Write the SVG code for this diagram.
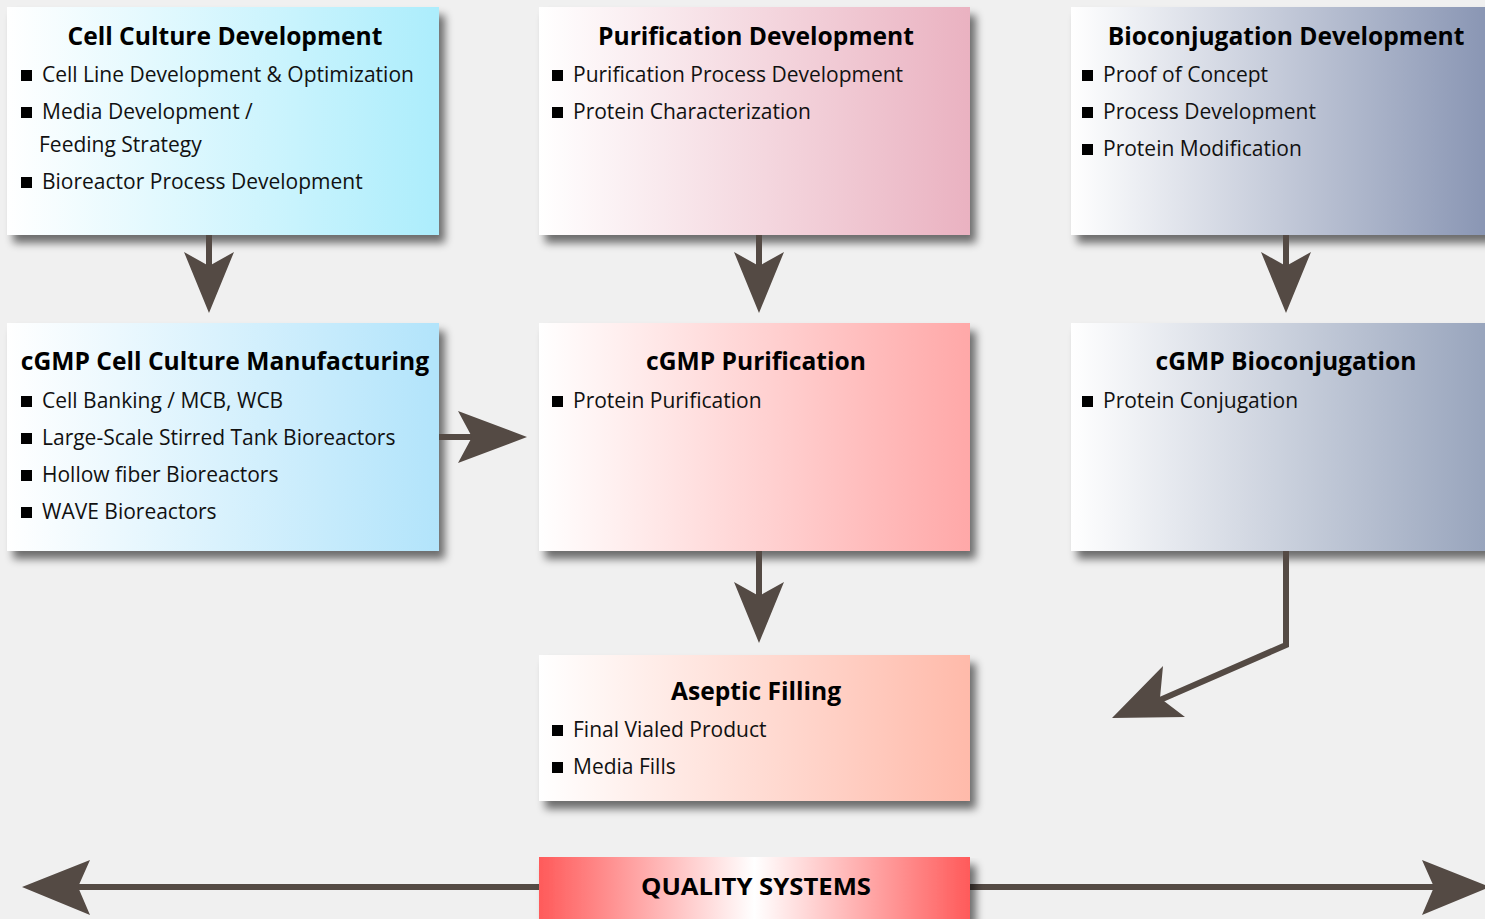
<svg xmlns="http://www.w3.org/2000/svg" width="1485" height="919" viewBox="0 0 1485 919">
  <defs>
    <filter id="shadow" x="-10%" y="-10%" width="130%" height="140%">
      <feGaussianBlur in="SourceAlpha" stdDeviation="4"/>
      <feOffset dx="6" dy="8" result="b"/>
      <feComponentTransfer><feFuncA type="linear" slope="0.55"/></feComponentTransfer>
      <feMerge><feMergeNode/><feMergeNode in="SourceGraphic"/></feMerge>
    </filter>
    <linearGradient id="gCyan" x1="0" x2="1" y1="0" y2="0">
      <stop offset="0" stop-color="#ffffff"/><stop offset="1" stop-color="#acedfc"/>
    </linearGradient>
    <linearGradient id="gBlue" x1="0" x2="1" y1="0" y2="0">
      <stop offset="0" stop-color="#ffffff"/><stop offset="1" stop-color="#b2e4fb"/>
    </linearGradient>
    <linearGradient id="gPink" x1="0" x2="1" y1="0" y2="0">
      <stop offset="0" stop-color="#ffffff"/><stop offset="1" stop-color="#eab2c1"/>
    </linearGradient>
    <linearGradient id="gRed" x1="0" x2="1" y1="0" y2="0">
      <stop offset="0" stop-color="#ffffff"/><stop offset="1" stop-color="#ffa8a8"/>
    </linearGradient>
    <linearGradient id="gSlate" x1="0" x2="1" y1="0" y2="0">
      <stop offset="0" stop-color="#ffffff"/><stop offset="1" stop-color="#8592b1"/>
    </linearGradient>
    <linearGradient id="gSlate2" x1="0" x2="1" y1="0" y2="0">
      <stop offset="0" stop-color="#ffffff"/><stop offset="1" stop-color="#94a1ba"/>
    </linearGradient>
    <linearGradient id="gSalmon" x1="0" x2="1" y1="0" y2="0">
      <stop offset="0" stop-color="#ffffff"/><stop offset="1" stop-color="#ffbaaa"/>
    </linearGradient>
    <linearGradient id="gQuality" x1="0" x2="1" y1="0" y2="0">
      <stop offset="0" stop-color="#ff5a5a"/><stop offset="0.5" stop-color="#ffffff"/><stop offset="1" stop-color="#ff5a5a"/>
    </linearGradient>
  </defs>
  <style>
    .title { font-family: "Open Sans", "Noto Sans", sans-serif; font-weight: bold; font-size: 24.6px; fill: #000; text-anchor: middle; }
    .item { font-family: "Open Sans", "Noto Sans", sans-serif; font-size: 21px; fill: #111; }
    .bullet { fill: #000; }
    .arrow { fill: #544a44; }
    .line { stroke: #544a44; stroke-width: 6; fill: none; }
  </style>

  <rect width="1485" height="919" fill="#f0f0f0"/>

  <!-- Development row -->
  <g id="cell-culture-dev">
    <rect x="7" y="7" width="432" height="228" fill="url(#gCyan)" filter="url(#shadow)"/>
    <text class="title" x="225" y="45">Cell Culture Development</text>
    <rect class="bullet" x="21" y="70" width="11" height="11"/>
    <text class="item" x="42" y="82">Cell Line Development &amp; Optimization</text>
    <rect class="bullet" x="21" y="107" width="11" height="11"/>
    <text class="item" x="42" y="119">Media Development /</text>
    <text class="item" x="39" y="152">Feeding Strategy</text>
    <rect class="bullet" x="21" y="177" width="11" height="11"/>
    <text class="item" x="42" y="189">Bioreactor Process Development</text>
  </g>

  <g id="purification-dev">
    <rect x="539" y="7" width="431" height="228" fill="url(#gPink)" filter="url(#shadow)"/>
    <text class="title" x="756" y="45">Purification Development</text>
    <rect class="bullet" x="552" y="70" width="11" height="11"/>
    <text class="item" x="573" y="82">Purification Process Development</text>
    <rect class="bullet" x="552" y="107" width="11" height="11"/>
    <text class="item" x="573" y="119">Protein Characterization</text>
  </g>

  <g id="bioconjugation-dev">
    <rect x="1071" y="7" width="431" height="228" fill="url(#gSlate)" filter="url(#shadow)"/>
    <text class="title" x="1286" y="45">Bioconjugation Development</text>
    <rect class="bullet" x="1082" y="70" width="11" height="11"/>
    <text class="item" x="1103" y="82">Proof of Concept</text>
    <rect class="bullet" x="1082" y="107" width="11" height="11"/>
    <text class="item" x="1103" y="119">Process Development</text>
    <rect class="bullet" x="1082" y="144" width="11" height="11"/>
    <text class="item" x="1103" y="156">Protein Modification</text>
  </g>

  <!-- cGMP row -->
  <g id="cgmp-cell-culture">
    <rect x="7" y="323" width="432" height="228" fill="url(#gBlue)" filter="url(#shadow)"/>
    <text class="title" x="225" y="370">cGMP Cell Culture Manufacturing</text>
    <rect class="bullet" x="21" y="396" width="11" height="11"/>
    <text class="item" x="42" y="408">Cell Banking / MCB, WCB</text>
    <rect class="bullet" x="21" y="433" width="11" height="11"/>
    <text class="item" x="42" y="445">Large-Scale Stirred Tank Bioreactors</text>
    <rect class="bullet" x="21" y="470" width="11" height="11"/>
    <text class="item" x="42" y="482">Hollow fiber Bioreactors</text>
    <rect class="bullet" x="21" y="507" width="11" height="11"/>
    <text class="item" x="42" y="519">WAVE Bioreactors</text>
  </g>

  <g id="cgmp-purification">
    <rect x="539" y="323" width="431" height="228" fill="url(#gRed)" filter="url(#shadow)"/>
    <text class="title" x="756" y="370">cGMP Purification</text>
    <rect class="bullet" x="552" y="396" width="11" height="11"/>
    <text class="item" x="573" y="408">Protein Purification</text>
  </g>

  <g id="cgmp-bioconjugation">
    <rect x="1071" y="323" width="431" height="228" fill="url(#gSlate2)" filter="url(#shadow)"/>
    <text class="title" x="1286" y="370">cGMP Bioconjugation</text>
    <rect class="bullet" x="1082" y="396" width="11" height="11"/>
    <text class="item" x="1103" y="408">Protein Conjugation</text>
  </g>

  <g id="aseptic-filling">
    <rect x="539" y="655" width="431" height="146" fill="url(#gSalmon)" filter="url(#shadow)"/>
    <text class="title" x="756" y="700">Aseptic Filling</text>
    <rect class="bullet" x="552" y="725" width="11" height="11"/>
    <text class="item" x="573" y="737">Final Vialed Product</text>
    <rect class="bullet" x="552" y="762" width="11" height="11"/>
    <text class="item" x="573" y="774">Media Fills</text>
  </g>

  <!-- Connectors -->
  <g id="connectors">
    <!-- Development to cGMP -->
    <line class="line" x1="209" y1="235" x2="209" y2="270"/>
    <path class="arrow" d="M209 313 L184 252 L209 266 L234 252 Z"/>
    <line class="line" x1="759" y1="235" x2="759" y2="270"/>
    <path class="arrow" d="M759 313 L734 252 L759 266 L784 252 Z"/>
    <line class="line" x1="1286" y1="235" x2="1286" y2="270"/>
    <path class="arrow" d="M1286 313 L1261 252 L1286 266 L1311 252 Z"/>
    <!-- Cell culture to purification -->
    <line class="line" x1="439" y1="437" x2="475" y2="437"/>
    <path class="arrow" d="M527 437 L458 411 L472 437 L458 463 Z"/>
    <!-- Purification to filling -->
    <line class="line" x1="759" y1="551" x2="759" y2="600"/>
    <path class="arrow" d="M759 643 L734 582 L759 596 L784 582 Z"/>
    <!-- Bioconjugation to filling -->
    <polyline class="line" points="1286,551 1286,645 1160,700"/>
    <path class="arrow" d="M1112 718 L1163 666 L1160 698 L1185 717 Z"/>
    <!-- Quality systems span -->
    <line class="line" x1="75" y1="887" x2="1440" y2="887"/>
    <path class="arrow" d="M22 887 L90 860 L78 887 L90 915 Z"/>
    <path class="arrow" d="M1490 887 L1422 860 L1434 887 L1422 915 Z"/>
  </g>

  <g id="quality-systems">
    <rect x="539" y="857" width="431" height="70" fill="url(#gQuality)" filter="url(#shadow)"/>
    <text x="756" y="895" font-family="Open Sans, Noto Sans, sans-serif" font-weight="bold" font-size="23" text-anchor="middle" textLength="230" lengthAdjust="spacingAndGlyphs">QUALITY SYSTEMS</text>
  </g>
</svg>
